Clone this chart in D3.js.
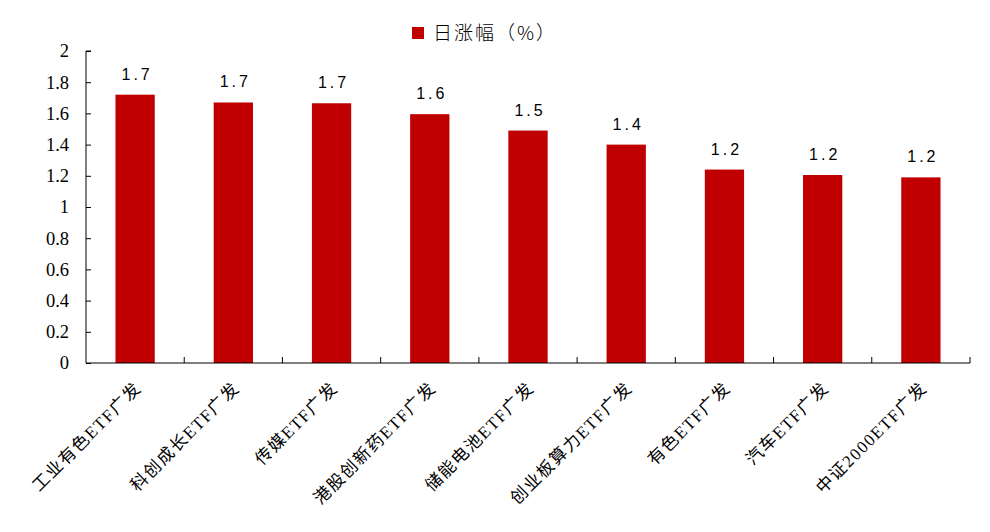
<!DOCTYPE html>
<html>
<head>
<meta charset="utf-8">
<script src="https://cdn.jsdelivr.net/npm/d3@7/dist/d3.min.js"></script>
<style>
  body { margin: 0; background: #fff; }
</style>
</head>
<body>
<div id="chart-area"></div>
<script>
var categories = ["工业有色ETF广发", "科创成长ETF广发", "传媒ETF广发", "港股创新药ETF广发",
    "储能电池ETF广发", "创业板算力ETF广发", "有色ETF广发", "汽车ETF广发", "中证2000ETF广发"];
var values = [1.72, 1.67, 1.665, 1.595, 1.49, 1.40, 1.24, 1.205, 1.19];
var valueLabels = ["1.7", "1.7", "1.7", "1.6", "1.5", "1.4", "1.2", "1.2", "1.2"];
var yTicks = [0, 0.2, 0.4, 0.6, 0.8, 1, 1.2, 1.4, 1.6, 1.8, 2];
var seriesName = "日涨幅（%）";

var W = 990, H = 532;
var margin = {top: 51, right: 20, bottom: 169, left: 86},
    width = W - margin.left - margin.right,
    height = H - margin.top - margin.bottom;

var serif = "\"Liberation Serif\", \"DejaVu Serif\", \"Noto Sans CJK SC\", serif";
var sans = "\"Liberation Sans\", Arial, \"Noto Sans CJK SC\", sans-serif";
var red = "#c00000";

var svg = d3.select("#chart-area")
    .append("svg")
        .attr("width", W)
        .attr("height", H)
    .append("g")
        .attr("transform", "translate(" + margin.left + "," + margin.top + ")");

var x = d3.scaleBand()
    .domain(categories)
    .range([0, 884])
    .paddingInner(0.6)
    .paddingOuter(0.3);

var y = d3.scaleLinear()
    .domain([0, 2])
    .range([height, 0]);

// bars
svg.append("g")
    .attr("class", "bars")
    .selectAll("rect")
    .data(values)
    .enter()
    .append("rect")
        .attr("x", (d, i) => x(categories[i]))
        .attr("y", d => y(d))
        .attr("width", x.bandwidth())
        .attr("height", d => height - y(d))
        .attr("fill", red);

// value labels
svg.append("g")
    .attr("class", "value-labels")
    .selectAll("text")
    .data(values)
    .enter()
    .append("text")
        .attr("x", (d, i) => x(categories[i]) + x.bandwidth() / 2 + 2)
        .attr("y", d => y(d) - 15)
        .attr("text-anchor", "middle")
        .style("font-family", sans)
        .style("font-size", "16px")
        .style("letter-spacing", "3px")
        .attr("fill", "#000")
        .text((d, i) => valueLabels[i]);

// y axis
var yAxis = svg.append("g")
    .attr("class", "y-axis")
    .call(d3.axisLeft(y).tickValues(yTicks).tickSize(-5).tickPadding(17).tickFormat(d3.format("")));
yAxis.selectAll("text")
    .style("font-family", serif)
    .style("font-size", "18.5px")
    .attr("fill", "#000");
yAxis.select(".domain").attr("stroke", "#000").attr("d", "M0," + height + "V0h5");
yAxis.selectAll(".tick line").attr("stroke", "#000");

// x axis
var outer = d3.scaleLinear().domain([0, categories.length]).range([0, 884]);
var xAxis = svg.append("g")
    .attr("class", "x-axis")
    .attr("transform", "translate(0," + height + ")");
xAxis.append("line")
    .attr("x1", 0).attr("x2", 884)
    .attr("stroke", "#000");
xAxis.selectAll(".xtick")
    .data(d3.range(1, categories.length + 1))
    .enter()
    .append("line")
        .attr("class", "xtick")
        .attr("x1", d => outer(d)).attr("x2", d => outer(d))
        .attr("y1", 0).attr("y2", -6)
        .attr("stroke", "#000");

xAxis.selectAll(".xlabel")
    .data(categories)
    .enter()
    .append("text")
        .attr("class", "xlabel")
        .attr("transform", d => "translate(" + (x(d) + x.bandwidth() / 2 + 3) + ",22) rotate(-45)")
        .attr("text-anchor", "end")
        .attr("dy", "0.35em")
        .style("font-family", serif)
        .style("font-size", "17px")
        .style("letter-spacing", "1.5px")
        .attr("fill", "#000")
        .text(d => d);

// legend
var legend = d3.select("svg").append("g")
    .attr("class", "legend")
    .attr("transform", "translate(412,27)");
legend.append("rect")
    .attr("width", 12).attr("height", 12)
    .attr("fill", red);
legend.append("text")
    .attr("x", 21)
    .attr("y", 6)
    .attr("dy", "0.36em")
    .style("font-family", "\"Noto Sans CJK SC\", sans-serif")
    .style("font-size", "19px")
    .style("font-weight", 300)
    .style("letter-spacing", "2px")
    .attr("fill", "#000")
    .text(seriesName);
</script>
</body>
</html>
